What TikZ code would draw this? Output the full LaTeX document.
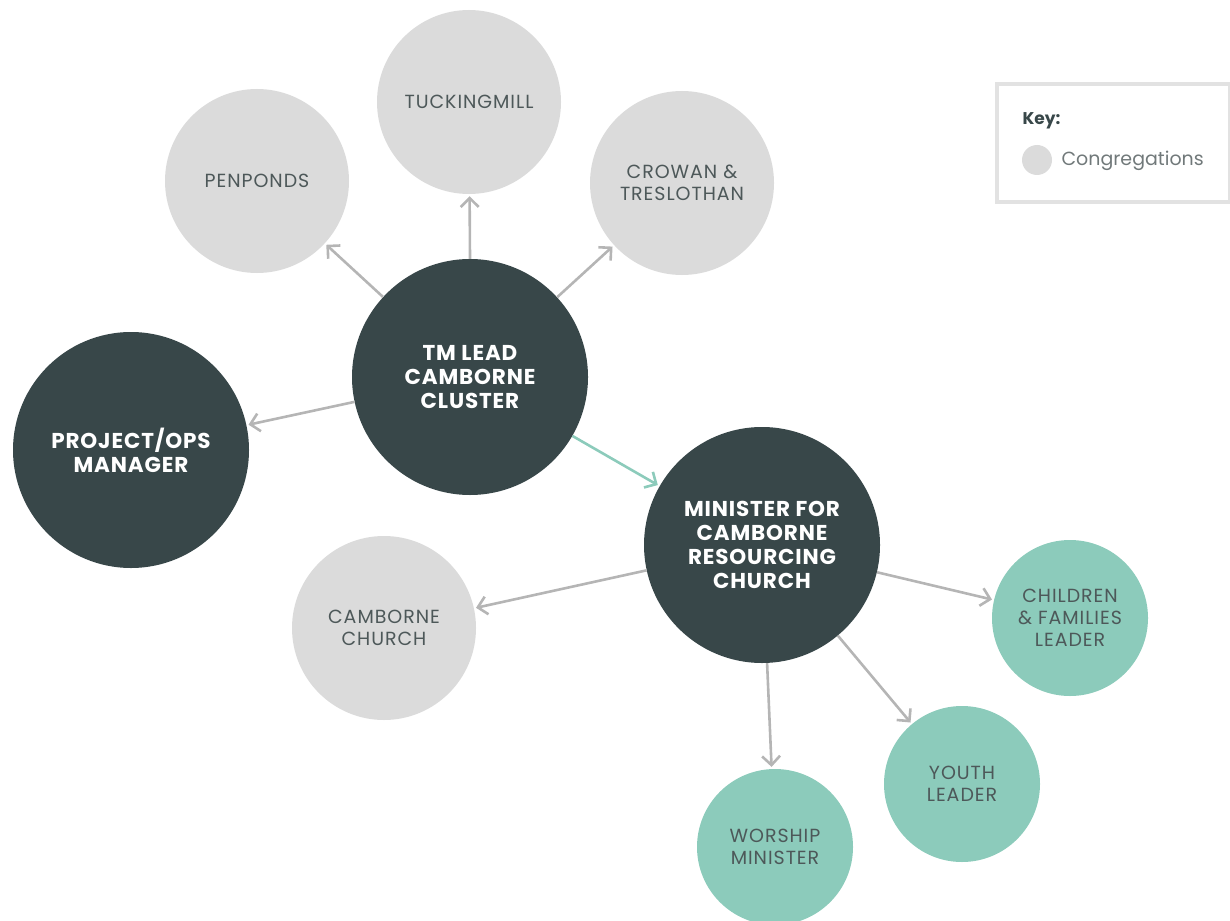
\documentclass[tikz,border=0pt]{standalone}
\usepackage{fontspec}
\setmainfont{Poppins}
\usetikzlibrary{arrows.meta}
\definecolor{dark}{HTML}{384749}
\definecolor{lgrey}{HTML}{DBDBDB}
\definecolor{teal}{HTML}{8CCBBB}
\definecolor{txt}{HTML}{4D5859}
\definecolor{arrg}{HTML}{B5B5B5}
\definecolor{keyline}{HTML}{E2E2E2}
\tikzset{
  circ/.style={circle,inner sep=0pt,align=center},
  bigc/.style={circ,fill=dark,minimum size=236pt,text=white,font=\bfseries\fontsize{21.5}{24}\selectfont\addfontfeature{LetterSpace=4}},
  cong/.style={circ,fill=lgrey,minimum size=184pt,text=txt,font=\fontsize{19}{22}\selectfont\addfontfeature{LetterSpace=5}},
  role/.style={circ,fill=teal,minimum size=156pt,text=txt,font=\fontsize{19}{22}\selectfont\addfontfeature{LetterSpace=5}},
  arr/.style={draw=arrg,line width=2.6pt,-{Straight Barb[length=9pt,width=18pt,line width=2.6pt]},shorten >=2pt},
  tarr/.style={arr,draw=teal},
}
\begin{document}
\begin{tikzpicture}[x=1pt,y=-1pt]
\useasboundingbox (0,0) rectangle (1230,920);
\node[cong] (tuck) at (469,102) {TUCKINGMILL};
\node[cong] (pen) at (257,181) {PENPONDS};
\node[cong] (crow) at (682,183) {CROWAN \&\\TRESLOTHAN};
\node[bigc] (tm) at (470,377) {TM LEAD\\CAMBORNE\\CLUSTER};
\node[bigc] (pm) at (131,450) {PROJECT/OPS\\MANAGER};
\node[bigc] (min) at (762,545) {MINISTER FOR\\CAMBORNE\\RESOURCING\\CHURCH};
\node[cong] (cc) at (384,628) {CAMBORNE\\CHURCH};
\node[role] (child) at (1070,618) {CHILDREN\\\& FAMILIES\\LEADER};
\node[role] (youth) at (962,784) {YOUTH\\LEADER};
\node[role] (wor) at (775,847) {WORSHIP\\MINISTER};
\draw[arr] (tm) -- (pen);
\draw[arr] (tm.north) -- (tuck);
\draw[arr] (tm) -- (crow);
\draw[arr] (tm) -- (pm);
\draw[tarr] (tm) -- (min);
\draw[arr] (min) -- (cc);
\draw[arr] (min) -- (child);
\draw[arr] (min) -- (youth);
\draw[arr] (min) -- (wor);
% key
\node[draw=keyline,line width=4pt,minimum width=233pt,minimum height=118pt,inner sep=0pt] (keybox) at (1113,143) {};
\node[anchor=west,text=dark,font=\bfseries\fontsize{17}{20}\selectfont] (keyt) at (1019,121) {Key:};
\node[circle,fill=lgrey,minimum size=30pt,inner sep=0pt] (keyc) at (1037,160) {};
\node[anchor=west,text=txt!80,font=\fontsize{19}{22}\selectfont] (keyl) at (1058,161) {Congregations};
\end{tikzpicture}
\end{document}
